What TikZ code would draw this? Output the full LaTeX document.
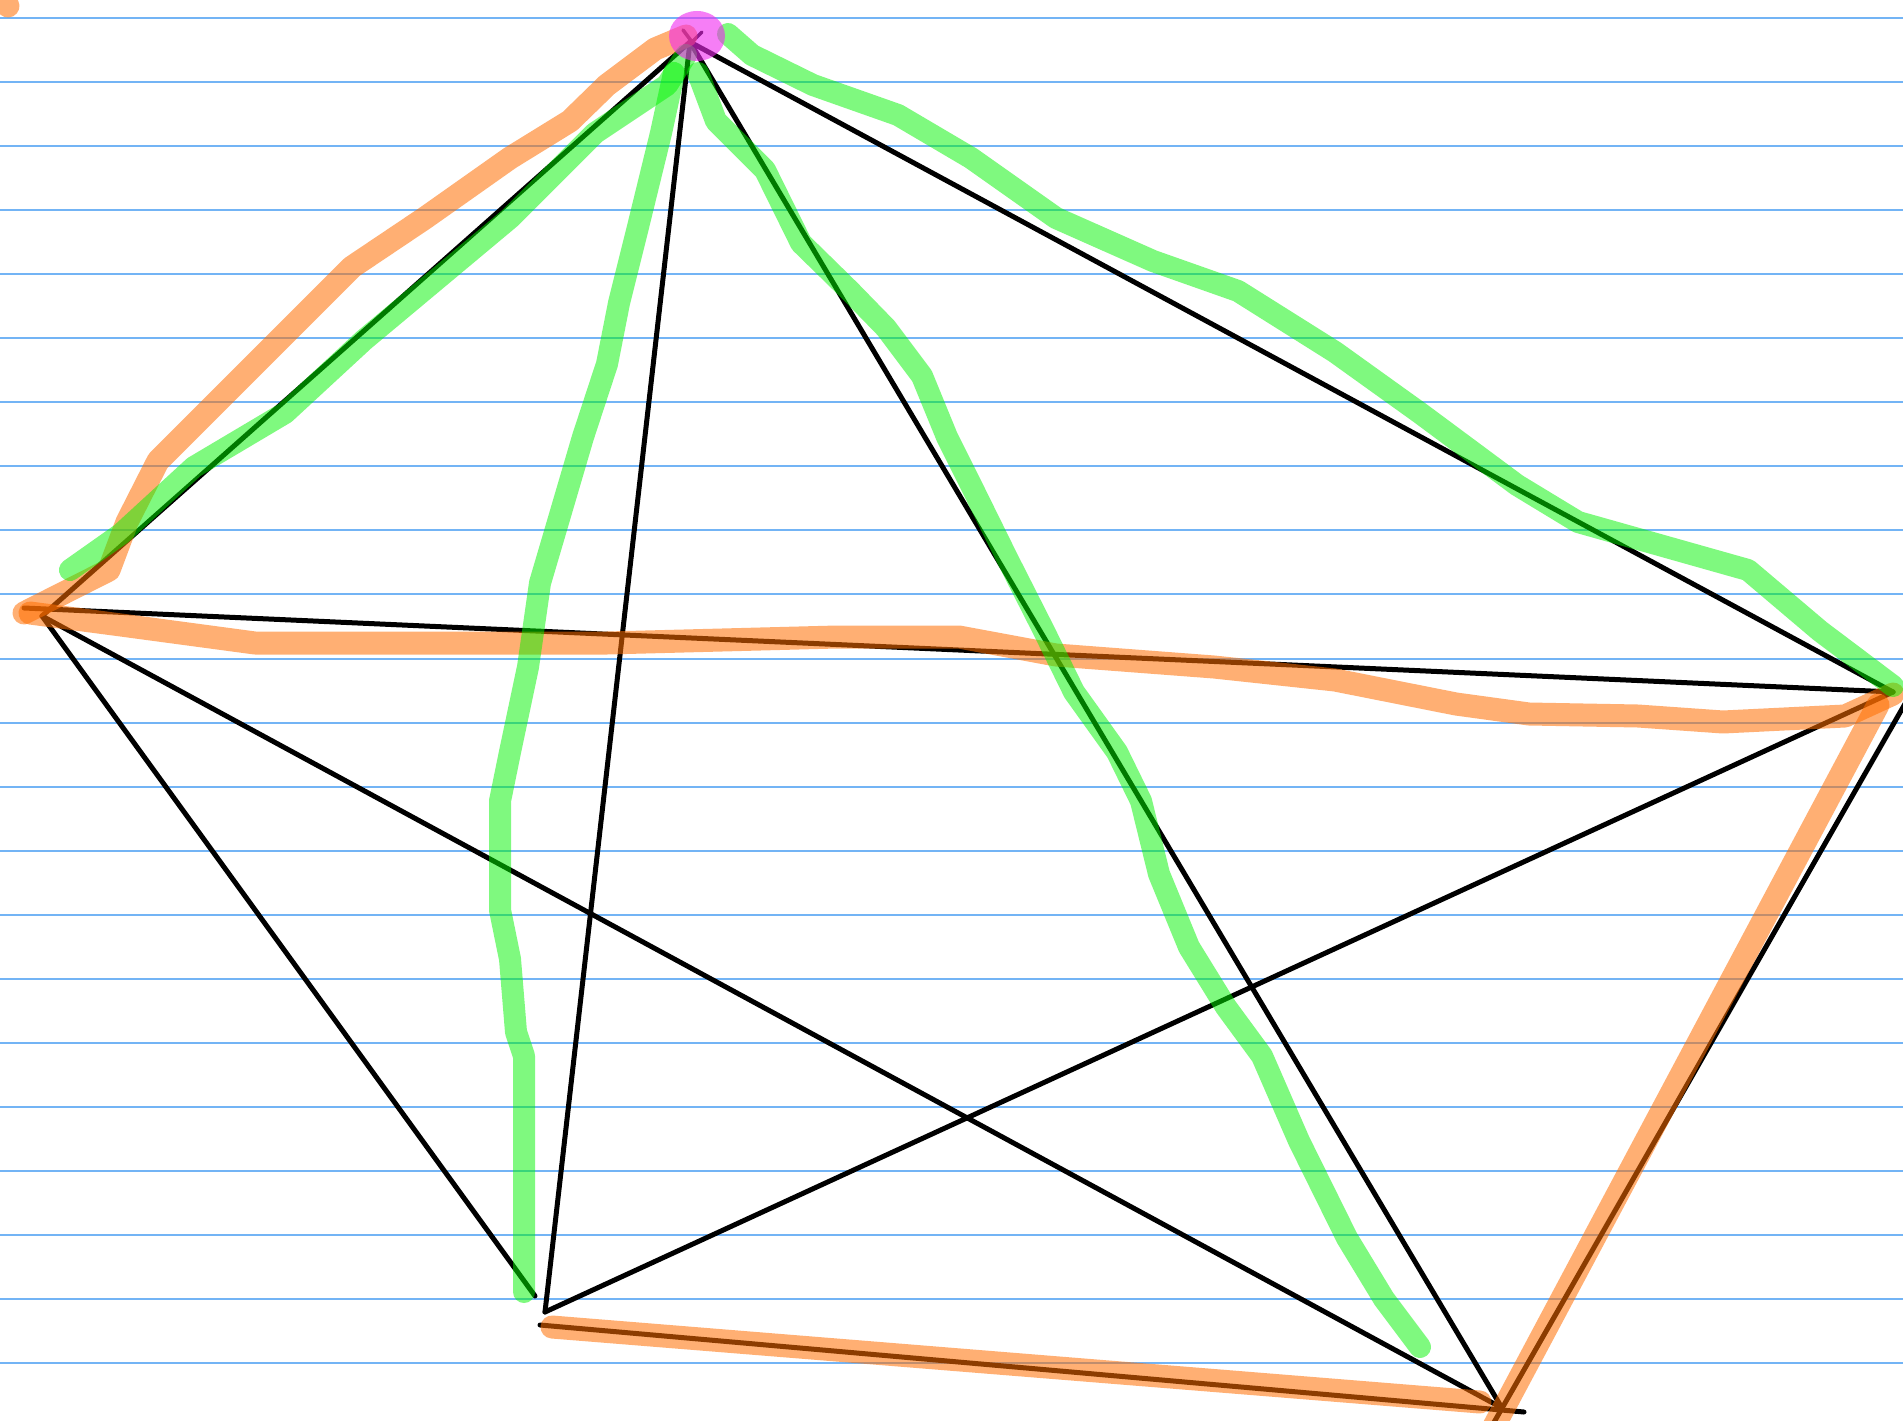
\documentclass[tikz,border=0pt]{standalone}
\definecolor{rulecol}{RGB}{115,180,245}
\definecolor{inkcol}{RGB}{0,0,0}
\definecolor{hgreen}{RGB}{0,245,0}
\definecolor{horange}{RGB}{255,110,0}
\definecolor{hpink}{RGB}{240,40,240}
\begin{document}
\begin{tikzpicture}[x=1pt,y=-1pt,
  rule/.style={draw=rulecol,line width=2pt},
  ink/.style={draw=inkcol,line width=5pt,line cap=round,line join=round},
  hlgreen/.style={draw=hgreen,draw opacity=0.5,line width=22pt,line cap=round,line join=round},
  hlorange/.style={draw=horange,draw opacity=0.55,line width=23pt,line cap=round,line join=round}]
\useasboundingbox (0,0) rectangle (1903,1421);
\fill[white] (0,0) rectangle (1903,1421);
% ruled paper
\foreach \k in {0,...,21} {\draw[rule] (0,{18+64.05*\k}) -- (1903,{18+64.05*\k});}
% vertices
\coordinate (A) at (690,42);
\coordinate (B) at (42,616);
\coordinate (B2) at (24,608);
\coordinate (C) at (1893,692);
\coordinate (C2) at (1906,702);
\coordinate (D) at (545,1312);
\coordinate (D2) at (535,1296);
\coordinate (D3) at (540,1325);
\coordinate (E) at (1502,1408);
\coordinate (E2) at (1524,1412);
\coordinate (E3) at (1493,1424);
% edges of the complete graph
\draw[ink] (A) -- (B);
\draw[ink] (A) -- (C);
\draw[ink] (A) -- (D);
\draw[ink] (A) -- (E);
\draw[ink] (B2) -- (C);
\draw[ink] (B) -- (D2);
\draw[ink] (B) -- (E);
\draw[ink] (D) -- (C);
\draw[ink] (C2) -- (E3);
\draw[ink] (D3) -- (E2);
% apex cross mark
\draw[ink,line width=3.5pt] (683,30) -- (692,42) -- (702,32);
% highlighter strokes
\draw[hlorange] (24,613) -- (109,570) -- (127,522) -- (158,461) -- (206,413) -- (279,340) -- (352,267) -- (425,218) -- (510,158) -- (570,121) -- (607,85) -- (655,49) -- (686,36);
\draw[hlorange] (30,613) -- (121,625) -- (255,643) -- (607,643) -- (837,637) -- (959,637) -- (1056,655) -- (1214,667) -- (1335,680) -- (1456,704) -- (1529,714) -- (1638,716) -- (1723,722) -- (1845,716) -- (1893,694);
\draw[hlorange] (1878,705) -- (1492,1430);
\draw[hlorange] (552,1327) -- (1480,1402);
\draw[hlorange] (5,0) -- (8,6);
\draw[hlgreen] (70,570) -- (121,534) -- (194,467) -- (285,413) -- (364,340) -- (510,218) -- (595,133) -- (667,85) -- (686,55);
\draw[hlgreen] (674,73) -- (661,133) -- (637,231) -- (619,303) -- (607,364) -- (583,437) -- (558,522) -- (540,583) -- (528,667) -- (510,752) -- (500,801) -- (500,910) -- (510,959) -- (516,1032) -- (524,1056) -- (524,1129) -- (524,1292);
\draw[hlgreen] (698,73) -- (716,121) -- (765,170) -- (801,243) -- (850,291) -- (886,328) -- (922,376) -- (947,437) -- (971,485) -- (1007,558) -- (1044,631) -- (1074,692) -- (1117,752) -- (1141,801) -- (1159,874) -- (1189,947) -- (1226,1007) -- (1262,1056) -- (1299,1141) -- (1347,1238) -- (1384,1299) -- (1420,1347);
\draw[hlgreen] (728,34) -- (752,55) -- (813,85) -- (898,115) -- (971,158) -- (1056,218) -- (1153,261) -- (1238,291) -- (1335,352) -- (1420,413) -- (1517,485) -- (1578,522) -- (1663,546) -- (1748,570) -- (1820,631) -- (1893,686);
% apex blob
\fill[hpink,fill opacity=0.6] (697,36) ellipse (28pt and 25pt);
\end{tikzpicture}
\end{document}
